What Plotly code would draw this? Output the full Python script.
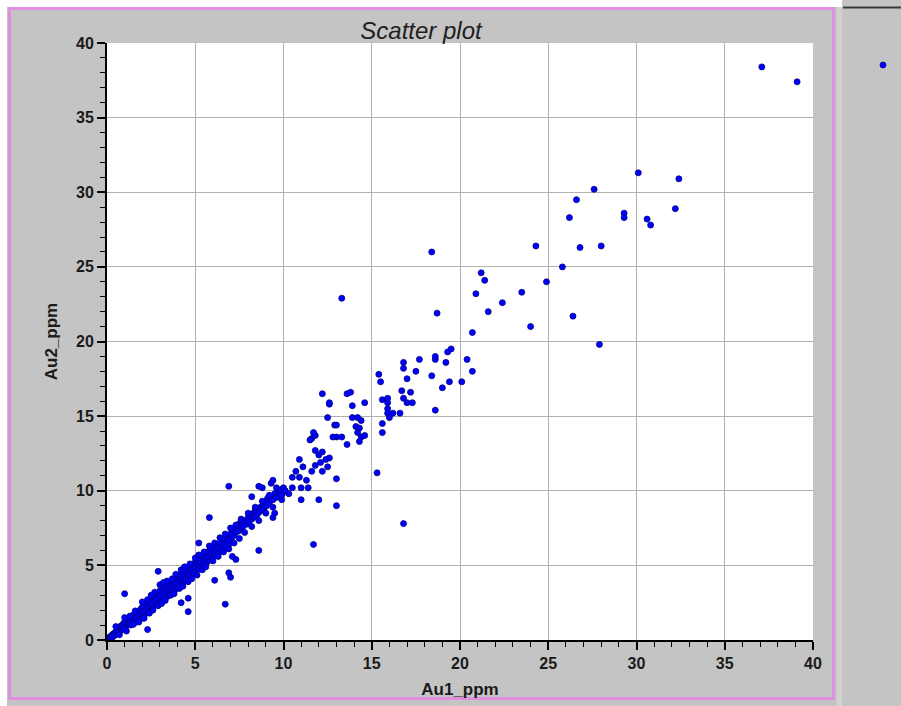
import plotly.graph_objects as go

# ---- data (Au1_ppm, Au2_ppm) ----
band = [
    (0.03, 0.05), (0.08, 0.02), (0.1, 0.15), (0.15, 0.1), (0.2, 0.25), (0.22, 0.12),
    (0.3, 0.35), (0.32, 0.2), (0.4, 0.45), (0.42, 0.3), (0.5, 0.55), (0.55, 0.4),
    (0.6, 0.7), (0.65, 0.5), (0.7, 0.8), (0.75, 0.6), (0.8, 0.95), (0.85, 0.7),
    (0.9, 1.05), (0.95, 0.8), (1.0, 1.2), (1.05, 0.9), (1.1, 1.3), (1.15, 1.0),
    (1.2, 1.1), (1.25, 1.45), (1.3, 1.2), (1.35, 1.0), (1.4, 1.55), (1.45, 1.3),
    (1.5, 1.7), (1.55, 1.4), (1.6, 1.2), (1.65, 1.75), (1.7, 1.5), (1.75, 1.9),
    (1.8, 1.6), (1.85, 1.35), (1.9, 2.05), (1.95, 1.8), (2.0, 2.2), (2.05, 1.9),
    (2.1, 1.6), (2.15, 2.3), (2.2, 2.0), (2.25, 2.5), (2.3, 2.15), (2.35, 1.85),
    (2.4, 2.6), (2.45, 2.3), (2.5, 2.75), (2.55, 2.45), (2.6, 2.1), (2.65, 2.9),
    (2.7, 2.6), (2.75, 3.0), (2.8, 2.7), (2.85, 2.35), (2.9, 3.1), (2.95, 2.8),
    (3.0, 3.3), (3.05, 3.0), (3.1, 2.6), (3.15, 3.4), (3.2, 3.1), (3.25, 2.8),
    (3.3, 3.5), (3.35, 3.2), (3.4, 2.9), (3.45, 3.65), (3.5, 3.35), (3.55, 3.05),
    (3.6, 3.8), (3.65, 3.5), (3.7, 3.2), (3.75, 3.95), (3.8, 3.6), (3.85, 3.35),
    (3.9, 4.1), (3.95, 3.8), (4.0, 3.5), (4.05, 4.25), (4.1, 3.95), (4.15, 3.7),
    (4.2, 4.4), (4.25, 4.1), (4.3, 3.85), (4.35, 4.55), (4.4, 4.25), (4.45, 4.0),
    (4.5, 4.7), (4.55, 4.4), (4.6, 4.15), (4.65, 4.85), (4.7, 4.55), (4.75, 4.3),
    (4.8, 5.0), (4.85, 4.7), (4.9, 4.45), (4.95, 5.15), (5.0, 4.85), (5.05, 4.6),
    (5.1, 5.3), (5.15, 5.0), (5.2, 4.75), (5.25, 5.4), (5.3, 5.15), (5.35, 4.9),
    (5.4, 5.6), (5.45, 5.3), (5.5, 5.05), (5.55, 5.75), (5.6, 5.45), (5.65, 5.2),
    (5.7, 5.9), (5.75, 5.6), (5.8, 5.35), (5.85, 6.0), (5.9, 5.75), (5.95, 5.5),
    (6.0, 6.2), (6.05, 5.9), (6.1, 5.65), (6.2, 6.35), (6.25, 6.05), (6.3, 5.8),
    (6.4, 6.5), (6.45, 6.2), (6.5, 6.0), (6.6, 6.7), (6.65, 6.4), (6.7, 6.2),
    (6.8, 6.9), (6.85, 6.6), (6.9, 6.4), (7.0, 7.1), (7.05, 6.8), (7.1, 7.4),
    (7.2, 7.0), (7.25, 7.5), (7.3, 7.2), (7.4, 7.6), (7.45, 7.3), (7.5, 7.8),
    (7.6, 7.5), (7.65, 7.9), (7.7, 7.6), (7.8, 8.0), (7.9, 7.75), (8.0, 8.2),
    (8.05, 7.9), (8.1, 8.4), (8.2, 8.1), (8.3, 8.5), (8.35, 8.25), (8.4, 8.7),
    (8.5, 8.4), (8.55, 8.8), (8.6, 8.55), (8.7, 8.9), (8.8, 8.7), (8.85, 9.1),
    (8.9, 8.8), (9.0, 9.3), (9.05, 9.0), (9.1, 9.5), (9.2, 9.2), (9.3, 9.6),
    (9.4, 9.4), (9.5, 9.8), (9.6, 9.55), (9.7, 10.0), (9.8, 9.8), (9.9, 10.1),
    (10.0, 9.9),
]

band_edges = [
    (0.5, 0.9), (0.7, 0.35), (1.0, 1.5), (1.1, 0.6), (1.3, 1.6), (1.5, 1.05),
    (1.6, 1.95), (1.8, 1.2), (2.0, 2.55), (2.1, 1.45), (2.3, 2.7), (2.4, 1.8),
    (2.5, 3.0), (2.6, 2.0), (2.7, 3.2), (2.9, 2.3), (3.0, 3.7), (3.1, 2.45),
    (3.2, 3.85), (3.3, 2.65), (3.4, 3.95), (3.6, 3.0), (3.7, 4.1), (3.8, 3.1),
    (3.9, 4.4), (4.1, 3.45), (4.2, 4.7), (4.3, 3.6), (4.4, 4.9), (4.6, 3.9),
    (4.7, 5.1), (4.8, 4.1), (5.0, 5.5), (5.1, 4.35), (5.2, 5.7), (5.4, 4.7),
    (5.5, 5.9), (5.6, 4.9), (5.8, 6.3), (6.0, 5.3), (6.1, 6.5), (6.3, 5.6),
    (6.4, 6.85), (6.6, 5.9), (6.7, 7.1), (6.9, 6.1), (7.0, 7.5), (7.2, 6.5),
    (7.3, 7.7), (7.5, 6.8), (7.6, 8.1), (7.8, 7.2), (8.0, 8.5), (8.2, 7.6),
    (8.4, 8.9), (8.6, 8.0), (8.8, 9.3), (9.0, 8.5), (9.2, 9.7), (9.4, 8.9),
    (9.6, 10.2), (9.9, 9.4),
]

mid = [
    (5.8, 8.2), (5.2, 6.5), (2.9, 4.6), (1.0, 3.1), (4.2, 2.5), (4.6, 2.8),
    (4.6, 1.9), (2.3, 0.7), (8.6, 6.0), (7.1, 5.6), (7.3, 5.4), (6.9, 4.5),
    (7.0, 4.2), (6.1, 4.0), (6.7, 2.4), (9.4, 8.2), (9.5, 8.5), (6.9, 10.3),
    (8.2, 9.6), (8.6, 10.3), (8.8, 10.2), (9.3, 10.5), (9.4, 10.7), (9.8, 10.0),
    (9.9, 9.7), (10.0, 10.2), (10.1, 10.0), (10.3, 9.8), (10.5, 10.2), (10.5, 10.9),
    (10.7, 11.3), (10.9, 10.9), (10.9, 12.1), (11.1, 11.6), (11.3, 10.7), (11.0, 10.2),
    (11.4, 10.2), (11.0, 9.4), (12.0, 9.4), (13.0, 9.0), (11.8, 12.7), (12.0, 12.4),
    (12.2, 12.6), (12.4, 12.1), (12.1, 11.9), (12.5, 11.6), (11.8, 11.7), (11.6, 11.3),
    (12.2, 11.3), (12.6, 12.2), (11.6, 13.5), (11.8, 13.7), (11.5, 13.4), (13.0, 13.6),
    (12.9, 14.4), (12.6, 15.8), (11.7, 6.4), (13.0, 10.8), (15.3, 11.2), (16.8, 7.8),
    (12.2, 16.5), (13.6, 16.5), (13.8, 16.6), (14.6, 15.9), (12.6, 15.9), (13.9, 15.7),
    (15.6, 16.1), (15.9, 16.2), (15.9, 15.9), (15.9, 15.5), (15.9, 15.2), (16.8, 16.2),
    (17.0, 15.9), (17.3, 15.9), (18.6, 15.4), (16.2, 15.2), (16.6, 15.2), (16.0, 14.9),
    (12.5, 14.9), (13.9, 14.9), (14.2, 14.9), (14.4, 14.7), (15.6, 14.5), (13.0, 14.4),
    (14.1, 14.3), (14.3, 14.2), (11.7, 13.9), (12.8, 13.6), (13.3, 13.6), (14.2, 13.9),
    (14.4, 13.6), (14.6, 13.7), (15.6, 13.9), (14.3, 13.3), (13.6, 13.1),
    (16.8, 18.6), (16.8, 18.2), (17.7, 18.8), (18.6, 18.8), (17.5, 18.0), (18.4, 17.7),
    (17.0, 17.5), (15.4, 17.8), (15.5, 17.3), (16.7, 16.7), (17.2, 16.6),
]

high = [
    (37.1, 38.4), (39.1, 37.4), (30.1, 31.3), (32.4, 30.9), (27.6, 30.2), (26.6, 29.5),
    (26.2, 28.3), (29.3, 28.6), (29.3, 28.3), (30.6, 28.2), (30.8, 27.8), (32.2, 28.9),
    (24.3, 26.4), (26.8, 26.3), (28.0, 26.4), (25.8, 25.0), (24.9, 24.0), (21.2, 24.6),
    (21.4, 24.1), (20.9, 23.2), (23.5, 23.3), (22.4, 22.6), (21.6, 22.0), (24.0, 21.0),
    (26.4, 21.7), (20.7, 20.6), (27.9, 19.8), (19.5, 19.5), (19.3, 19.3), (20.4, 18.8),
    (20.7, 18.0), (18.4, 26.0), (13.3, 22.9), (18.7, 21.9), (18.6, 19.0), (19.2, 18.6),
    (19.4, 17.3), (20.1, 17.3), (19.0, 16.9),
]

points = band + band_edges + mid + high
au1_ppm = [p[0] for p in points]
au2_ppm = [p[1] for p in points]

x_ticks = [0, 5, 10, 15, 20, 25, 30, 35, 40]
y_ticks = [0, 5, 10, 15, 20, 25, 30, 35, 40]

# ---- layout geometry (pixels) ----
W, H = 901, 706
L, R, T, B = 107, 88, 43, 66
PW, PH = W - L - R, H - T - B


def fx(p):
    return (p - L) / PW


def fy(p):
    return (H - B - p) / PH


fig = go.Figure()
fig.add_trace(go.Scatter(
    x=au1_ppm, y=au2_ppm, mode="markers", name=" ",
    marker=dict(size=6, color="#0000ff", symbol="circle",
                line=dict(color="#000080", width=0.8)),
    showlegend=True,
))

axis_common = dict(
    range=[0, 40], showgrid=True, gridcolor="#b0b0b0", gridwidth=1,
    zeroline=False, showline=True, linecolor="#000000", linewidth=2,
    ticks="outside", ticklen=8, tickwidth=1.5, tickcolor="#000000",
    tickfont=dict(family="Liberation Sans, Arial", size=16, color="#1a1a1a",
                  weight="bold"),
    minor=dict(dtick=1, ticks="outside", ticklen=5, tickwidth=1,
               tickcolor="#000000", showgrid=False),
)

fig.update_layout(
    width=W, height=H,
    margin=dict(l=L, r=R, t=T, b=B, autoexpand=False),
    paper_bgcolor="#c4c4c4", plot_bgcolor="#ffffff",
    font=dict(family="Liberation Sans, Arial", color="#1a1a1a"),
    title=dict(text="Scatter plot", x=421 / W, xref="container", xanchor="center",
               y=1 - 31 / H, yref="container", yanchor="middle",
               font=dict(size=24, style="italic", color="#202020",
                         family="Liberation Sans, Arial")),
    xaxis=dict(axis_common, tickvals=x_ticks, ticktext=[str(v) for v in x_ticks],
               title=dict(text="Au1_ppm", standoff=12,
                          font=dict(size=17, weight="bold", color="#1a1a1a"))),
    yaxis=dict(axis_common, tickvals=y_ticks, ticktext=[str(v) for v in y_ticks],
               title=dict(text="Au2_ppm", standoff=14,
                          font=dict(size=17, weight="bold", color="#1a1a1a"))),
    legend=dict(x=fx(863), y=fy(65), xanchor="left", yanchor="middle",
                bgcolor="rgba(0,0,0,0)", font=dict(size=10)),
    shapes=[
        dict(type="rect", xref="paper", yref="paper", x0=fx(0), x1=fx(842),
             y0=fy(7), y1=fy(0), fillcolor="#ffffff", line=dict(width=0)),
        dict(type="rect", xref="paper", yref="paper", x0=fx(0), x1=fx(7),
             y0=fy(706), y1=fy(0), fillcolor="#ffffff", line=dict(width=0)),
        dict(type="rect", xref="paper", yref="paper", x0=fx(837), x1=fx(842),
             y0=fy(706), y1=fy(7), fillcolor="#cfd4cf", line=dict(width=0)),
        dict(type="rect", xref="paper", yref="paper", x0=fx(9.5), x1=fx(833.5),
             y0=fy(698.5), y1=fy(8.5), line=dict(color="#e08ee0", width=3)),
        dict(type="line", xref="paper", yref="paper", x0=fx(843), x1=fx(901),
             y0=fy(7.5), y1=fy(7.5), line=dict(color="#3a3a3a", width=2)),
    ],
)

fig.write_html("out.html", config={"displayModeBar": False},
               post_script="document.body.style.margin='0';")
